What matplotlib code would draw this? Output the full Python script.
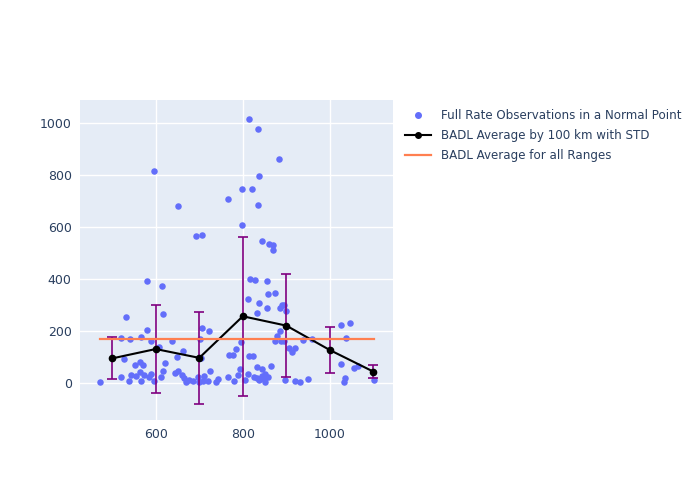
import matplotlib.pyplot as plt
from matplotlib.lines import Line2D

# scatter observations (range km, value)
obs_x = [815, 835, 884, 597, 837, 650, 797, 821, 767, 836, 692, 707, 797, 844, 861, 870, 869,
         579, 615, 817, 829, 855, 875, 813, 858, 837, 855, 833, 532, 616, 885, 890, 894, 899,
         886, 878, 873, 888, 894, 905, 919, 912, 939, 959, 1026, 1047, 1038, 1025, 1035, 1033,
         1055, 1064, 1102,
         471, 520, 541, 579, 567, 588, 527, 521, 553, 563, 571, 544, 555, 539, 563, 567, 572,
         584, 590, 597, 608, 612, 622, 616, 637, 663, 649, 645, 650, 660, 669, 676, 685, 665,
         707, 722, 702, 703, 696, 710, 700, 709, 719, 725, 739, 744, 767, 769, 778, 784, 793,
         796, 779, 788, 804, 814, 824, 812, 832, 843, 864, 833, 837, 848, 850, 859, 826, 844,
         897, 919, 931, 949, 852]
obs_y = [1015, 978, 863, 818, 799, 682, 746, 749, 708, 685, 568, 572, 610, 547, 536, 531, 512,
         394, 373, 401, 397, 394, 347, 324, 342, 309, 288, 269, 254, 267, 288, 300, 303, 277,
         203, 183, 164, 164, 164, 135, 135, 119, 167, 172, 223, 232, 176, 76, 22, 6,
         58, 68, 12,
         5, 174, 172, 204, 178, 164, 95, 26, 72, 81, 69, 32, 27, 9, 44, 8, 31,
         26, 35, 10, 140, 26, 78, 47, 162, 126, 103, 41, 49, 31, 6, 13, 9, 21,
         213, 203, 172, 96, 26, 29, 6, 10, 8, 47, 6, 15, 24, 108, 108, 133, 55,
         159, 9, 31, 12, 104, 106, 36, 63, 54, 65, 22, 13, 15, 6, 24, 26, 28,
         14, 10, 6, 15, 36]

# averages per 100 km
avg_x = [500, 600, 700, 800, 900, 1000, 1100]
avg_y = [96, 132, 98, 258, 222, 128, 45]
avg_std = [81, 169, 176, 306, 198, 87, 26]

overall_avg = 171.5
overall_x = [471, 1102]

fig = plt.figure(figsize=(7, 5), dpi=100)
ax = fig.add_axes([80 / 700, 80 / 500, 313 / 700, 320 / 500])
ax.set_facecolor('#E5ECF6')

ax.scatter(obs_x, obs_y, s=22, color='#636EFA', linewidths=0, zorder=3)
ax.errorbar(avg_x, avg_y, yerr=avg_std, color='black', marker='o', markersize=4.5,
            linewidth=1.5, ecolor='purple', elinewidth=1.2, capsize=3.5, capthick=1.2,
            zorder=4)
ax.plot(overall_x, [overall_avg, overall_avg], color='#FF7F50', linewidth=1.6, zorder=5)

ax.set_xlim(426, 1145)
ax.set_ylim(-141, 1090)
ax.set_xticks([600, 800, 1000])
ax.set_yticks([0, 200, 400, 600, 800, 1000])
ax.grid(color='white', linewidth=1)
ax.set_axisbelow(True)
for s in ax.spines.values():
    s.set_visible(False)
ax.tick_params(length=0, labelsize=9, colors='#2a3f5f', pad=6)

handles = [
    Line2D([], [], linestyle='none', marker='o', markersize=4, color='#636EFA'),
    Line2D([], [], color='black', marker='o', markersize=4, linewidth=1.5),
    Line2D([], [], color='#FF7F50', linewidth=1.6),
]
labels = ['Full Rate Observations in a Normal Point',
          'BADL Average by 100 km with STD',
          'BADL Average for all Ranges']
ax.legend(handles, labels, loc='upper left', bbox_to_anchor=(400 / 700, 1 - 104 / 500),
          bbox_transform=fig.transFigure, frameon=False, fontsize=8.6,
          labelcolor='#2a3f5f', handlelength=2.2, borderaxespad=0, labelspacing=0.6)

fig.savefig('out.png', dpi=100)
